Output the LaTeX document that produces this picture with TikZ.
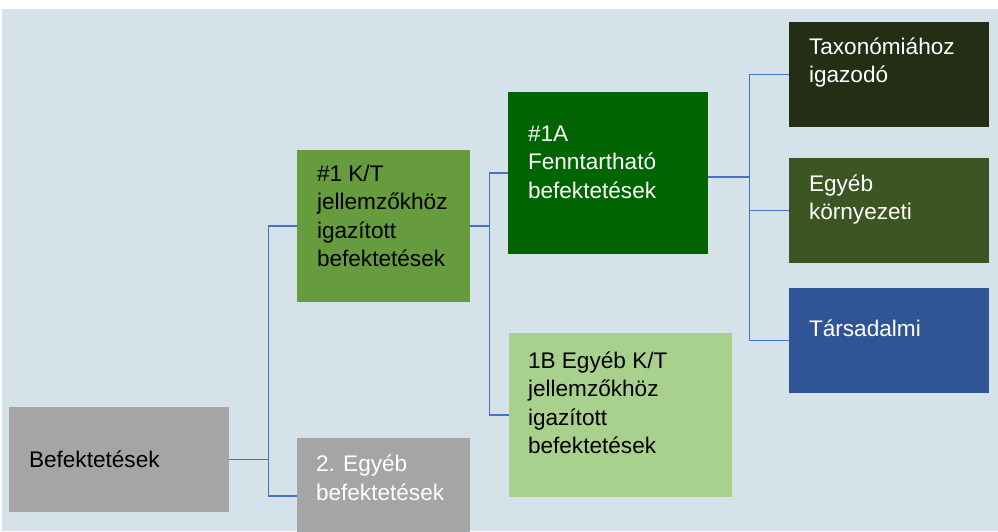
\documentclass[tikz,border=0pt]{standalone}
\usepackage{fontspec}
\setmainfont{Liberation Sans}
\usetikzlibrary{positioning, calc}
\definecolor{bgblue}{HTML}{D6E2EA}
\definecolor{linkblue}{HTML}{4472C4}
\definecolor{greybox}{HTML}{A5A5A5}
\definecolor{ktgreen}{HTML}{669C3E}
\definecolor{fagreen}{HTML}{006400}
\definecolor{ebgreen}{HTML}{A9D18E}
\definecolor{taxgreen}{HTML}{232E15}
\definecolor{envgreen}{HTML}{3B5623}
\definecolor{socblue}{HTML}{2F5597}
\tikzset{
    block/.style={rectangle, inner sep=0pt, draw=none},
    blocktext/.style={anchor=west, align=left, inner sep=0pt, font=\fontsize{22.6}{28.5}\selectfont},
    link/.style={draw=linkblue, line width=1.4pt}
}

\begin{document}
\begin{tikzpicture}[x=1pt, y=-1pt]

    % Background
    \useasboundingbox (0,0) rectangle (998,531);
    \fill[bgblue] (2,9) rectangle (998,531);

    % Boxes
    \node (bef) [block, fill=greybox, minimum width=220pt, minimum height=105pt] at (119,459.5) {};
    \node (kt) [block, fill=ktgreen, minimum width=173pt, minimum height=152pt] at (383.5,226) {};
    \node (egy) [block, fill=greybox, minimum width=173pt, minimum height=116pt] at (383.5,496) {};
    \node (fa) [block, fill=fagreen, minimum width=200pt, minimum height=162pt] at (608,173) {};
    \node (eb) [block, fill=ebgreen, minimum width=223pt, minimum height=164pt] at (620.5,415) {};
    \node (tax) [block, fill=taxgreen, minimum width=200pt, minimum height=105pt] at (889,74.5) {};
    \node (env) [block, fill=envgreen, minimum width=200pt, minimum height=105pt] at (889,210.5) {};
    \node (soc) [block, fill=socblue, minimum width=200pt, minimum height=105pt] at (889,340.5) {};

    % Texts
    \node (bef-t) [blocktext] at ([xshift=20pt]bef.west) {Befektetések};
    \node (kt-t) [blocktext] at ([xshift=20pt, yshift=10pt]kt.west) {\#1 K/T\\jellemzőkhöz\\igazított\\befektetések};
    \node (egy-t) [blocktext, text=white] at ([xshift=19pt, yshift=18pt]egy.west) {2. Egyéb\\befektetések};
    \node (fa-t) [blocktext, text=white] at ([xshift=20pt, yshift=11pt]fa.west) {\#1A\\Fenntartható\\befektetések};
    \node (eb-t) [blocktext] at ([xshift=19pt, yshift=12pt]eb.west) {1B Egyéb K/T\\jellemzőkhöz\\igazított\\befektetések};
    \node (tax-t) [blocktext, text=white] at ([xshift=20pt, yshift=12pt]tax.west) {Taxonómiához\\igazodó};
    \node (env-t) [blocktext, text=white] at ([xshift=20pt, yshift=11pt]env.west) {Egyéb\\környezeti};
    \node (soc-t) [blocktext, text=white] at ([xshift=20pt, yshift=12pt]soc.west) {Társadalmi};

    % Connectors
    \draw [link] (bef.east) -- ++(39,0) |- (kt.west);
    \draw [link] (bef.east) -- ++(39,0) |- (egy.west);
    \draw [link] (kt.east) -- ++(19,0) |- (fa.west);
    \draw [link] (kt.east) -- ++(19,0) |- (eb.west);
    \draw [link] ([yshift=-4pt]fa.east) -- ++(41,0) |- (tax.west);
    \draw [link] ([yshift=-4pt]fa.east) -- ++(41,0) |- (env.west);
    \draw [link] ([yshift=-4pt]fa.east) -- ++(41,0) |- (soc.west);

\end{tikzpicture}
\end{document}
